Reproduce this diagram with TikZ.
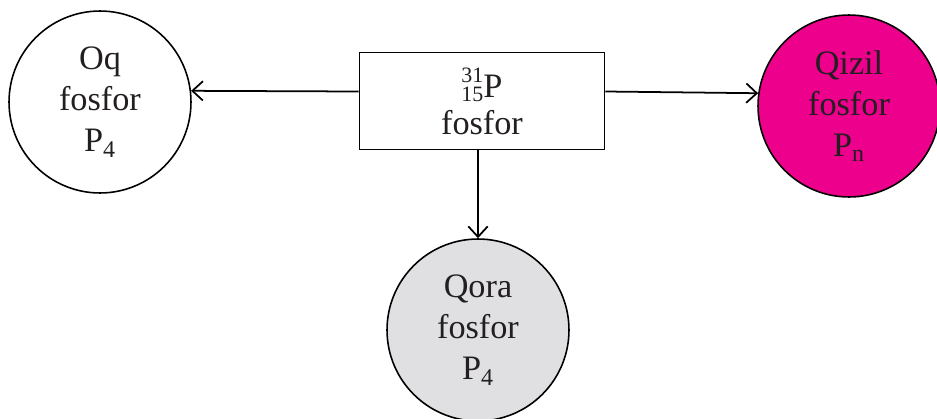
\documentclass[tikz,border=0pt]{standalone}
\usepackage{fontspec}
\setmainfont{Liberation Serif}
\usetikzlibrary{arrows.meta}

\definecolor{qizilrang}{RGB}{236,0,140}
\definecolor{qorarang}{RGB}{224,224,226}
\definecolor{matn}{RGB}{35,31,32}

\newcommand{\nuklid}[3]{{\fontsize{12.5}{12.5}\selectfont\rlap{\raisebox{8.5pt}{#1}}\raisebox{-2.5pt}{#2}}#3}

\tikzset{
  allotrop/.style={circle, draw, line width=0.9pt, minimum size=3.64cm, inner sep=0pt,
    align=center, text=matn, font=\fontsize{19.5}{23.3}\selectfont},
  manba/.style={rectangle, draw, line width=1.1pt, minimum width=4.9cm, minimum height=1.94cm,
    align=center, text=matn, font=\fontsize{19.5}{17}\selectfont},
  otish/.style={-{Straight Barb[length=6pt,width=11pt,line width=1pt]}, line width=1pt}
}

\begin{document}
\begin{tikzpicture}[x=0.02cm, y=-0.02cm]
        % \draw[help lines, gray!50, very thin] (0,0) grid (937,419);
        \useasboundingbox (0,0) rectangle (937,419);

        \node[manba] (fosfor) at (482,101) {\nuklid{31}{15}{P}\\[4pt] fosfor};

        \node[allotrop] (oq) at (100,102) {Oq\\ fosfor\\ P\textsubscript{4}};
        \node[allotrop, fill=qizilrang] (qizil) at (849,106) {Qizil\\ fosfor\\ P\textsubscript{n}};
        \node[allotrop, fill=qorarang] (qora) at (478,330) {Qora\\ fosfor\\ P\textsubscript{4}};

        \draw[otish] ([yshift=0.19cm]fosfor.west) -- (oq.7);
        \draw[otish] ([yshift=0.19cm]fosfor.east) -- (qizil.172);
        \draw[otish] (fosfor.south -| qora) -- (qora);
      \end{tikzpicture}
\end{document}
